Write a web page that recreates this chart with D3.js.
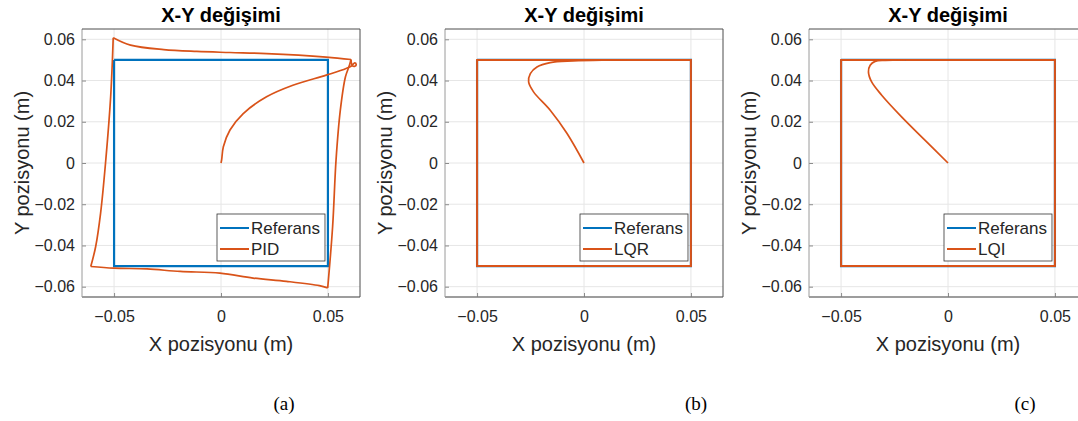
<!DOCTYPE html>
<html>
<head>
<meta charset="utf-8">
<script src="https://cdn.jsdelivr.net/npm/d3@7"></script>
<style>
  body { margin: 0; background: #fff; }
  svg { display: block; }
</style>
</head>
<body>
<svg id="chart" width="1078" height="421"></svg>
<script>
// tick values
var xTicks = [-0.05, 0, 0.05];
var yTicks = [-0.06, -0.04, -0.02, 0, 0.02, 0.04, 0.06];

// reference square (same for all three)
var refSquare = [[-0.05, 0.05], [0.05, 0.05], [0.05, -0.05], [-0.05, -0.05], [-0.05, 0.05]];

// PID response, one piece per edge
var pidApproach = [[0, 0], [0.0003, 0.0015], [0.0011, 0.0079], [0.0042, 0.016], [0.0104, 0.024],
  [0.0213, 0.0321], [0.0336, 0.0377], [0.0492, 0.0426], [0.0585, 0.0458], [0.0612, 0.0472],
  [0.0625, 0.0486], [0.0632, 0.0479], [0.0626, 0.0469], [0.0614, 0.0473], [0.0608, 0.0502]];
var pidTop = [[0.0608, 0.0502], [0.0492, 0.0514], [0.0213, 0.0531], [0.0042, 0.0536],
  [-0.0113, 0.0541], [-0.0268, 0.055], [-0.0423, 0.0572], [-0.0504, 0.0608]];
var pidLeft = [[-0.0504, 0.0608], [-0.0516, 0.0321], [-0.054, 0], [-0.0563, -0.0243],
  [-0.0586, -0.0405], [-0.0609, -0.0502]];
var pidBottom = [[-0.0609, -0.0502], [-0.0501, -0.051], [-0.0346, -0.0514], [-0.0191, -0.0526],
  [-0.0005, -0.0534], [0.015, -0.0558], [0.0306, -0.0574], [0.046, -0.0595], [0.0499, -0.0606]];
var pidRight = [[0.0499, -0.0606], [0.0522, -0.0308], [0.0538, 0.0015], [0.0558, 0.0256],
  [0.0582, 0.0418], [0.0601, 0.0475], [0.0608, 0.0502]];

// LQR response
var lqrTransient = [[0, 0], [-0.008, 0.0144], [-0.0158, 0.0256], [-0.0236, 0.0345], [-0.0259, 0.0393],
  [-0.0251, 0.0434], [-0.022, 0.0466], [-0.0158, 0.0487], [-0.005, 0.0495], [0.01, 0.0499], [0.02, 0.05]];
var lqrTrack = [[0.02, 0.05], [0.05, 0.05], [0.05, -0.05], [-0.05, -0.05], [-0.05, 0.05], [0.02, 0.05]];

// LQI response
var lqiTransient = [[0, 0], [-0.0108, 0.0111], [-0.0217, 0.0224], [-0.031, 0.0329], [-0.0357, 0.0393],
  [-0.0372, 0.0442], [-0.0364, 0.0474], [-0.0341, 0.0493], [-0.0294, 0.0498], [-0.02, 0.05]];
var lqiTrack = [[-0.02, 0.05], [0.05, 0.05], [0.05, -0.05], [-0.05, -0.05], [-0.05, 0.05], [-0.02, 0.05]];

var panels = [
  { left: 82, name: 'PID', curves: [pidApproach, pidTop, pidLeft, pidBottom, pidRight], straight: [], tag: '(a)', tagX: 284 },
  { left: 445, name: 'LQR', curves: [lqrTransient], straight: [lqrTrack], tag: '(b)', tagX: 696 },
  { left: 809, name: 'LQI', curves: [lqiTransient], straight: [lqiTrack], tag: '(c)', tagX: 1025 }
];

var blue = '#0072BD', orange = '#D95319';
var font = 'Arial, "Liberation Sans", Helvetica, sans-serif';
var plotTop = 29, w = 278, h = 268;

var svg = d3.select('#chart');
var fmt = d3.format('');

panels.forEach(function (p, i) {
  var x = d3.scaleLinear().domain([-0.065, 0.065]).range([0, w]);
  var y = d3.scaleLinear().domain([-0.065, 0.065]).range([h, 0]);

  var g = svg.append('g').attr('transform', 'translate(' + p.left + ',' + plotTop + ')');

  g.append('clipPath').attr('id', 'clip' + i)
    .append('rect').attr('width', w).attr('height', h);

  // grid
  g.selectAll('.gx').data(xTicks).enter().append('line')
    .attr('x1', function (d) { return x(d); }).attr('x2', function (d) { return x(d); })
    .attr('y1', 0).attr('y2', h)
    .attr('stroke', '#e6e6e6').attr('stroke-width', 1);
  g.selectAll('.gy').data(yTicks).enter().append('line')
    .attr('y1', function (d) { return y(d); }).attr('y2', function (d) { return y(d); })
    .attr('x1', 0).attr('x2', w)
    .attr('stroke', '#e6e6e6').attr('stroke-width', 1);

  // axes
  var xAxis = g.append('g').attr('transform', 'translate(0,' + h + ')')
    .call(d3.axisBottom(x).tickValues(xTicks).tickSize(-4).tickPadding(14).tickFormat(function (d) { return d === 0 ? '0' : fmt(d); }));
  var yAxis = g.append('g')
    .call(d3.axisLeft(y).tickValues(yTicks).tickSize(-4).tickPadding(7).tickFormat(function (d) { return d === 0 ? '0' : fmt(d); }));
  [xAxis, yAxis].forEach(function (a) {
    a.select('.domain').remove();
    a.selectAll('line').attr('stroke', '#8c8c8c');
    a.selectAll('text').style('font-family', font).style('font-size', '16px').attr('fill', '#262626');
  });

  // box
  g.append('line').attr('x1', 0).attr('x2', w).attr('y1', h).attr('y2', h).attr('stroke', '#7d7d7d').attr('stroke-width', 1.5);
  g.append('line').attr('x1', 0).attr('x2', 0).attr('y1', 0).attr('y2', h).attr('stroke', '#9a9a9a').attr('stroke-width', 1);
  g.append('line').attr('x1', 0).attr('x2', w).attr('y1', 0).attr('y2', 0).attr('stroke', '#4d4d4d').attr('stroke-width', 1);
  g.append('line').attr('x1', w).attr('x2', w).attr('y1', 0).attr('y2', h).attr('stroke', '#4d4d4d').attr('stroke-width', 1);

  var plot = g.append('g').attr('clip-path', 'url(#clip' + i + ')');
  var linear = d3.line().x(function (d) { return x(d[0]); }).y(function (d) { return y(d[1]); });
  var smooth = d3.line().x(function (d) { return x(d[0]); }).y(function (d) { return y(d[1]); })
    .curve(d3.curveCatmullRom.alpha(0.5));

  plot.append('path').attr('d', linear(refSquare)).attr('fill', 'none')
    .attr('stroke', blue).attr('stroke-width', 2.2);

  p.straight.forEach(function (s) {
    plot.append('path').attr('d', linear(s)).attr('fill', 'none')
      .attr('stroke', orange).attr('stroke-width', 2).attr('stroke-linejoin', 'miter');
  });
  p.curves.forEach(function (c) {
    plot.append('path').attr('d', smooth(c)).attr('fill', 'none')
      .attr('stroke', orange).attr('stroke-width', 1.7).attr('stroke-linejoin', 'round');
  });

  // title
  g.append('text').attr('x', w / 2).attr('y', -7).attr('text-anchor', 'middle')
    .style('font-family', font).style('font-size', '20px').style('font-weight', 'bold')
    .attr('fill', '#000').text('X-Y değişimi');

  // axis labels
  g.append('text').attr('x', w / 2).attr('y', h + 54).attr('text-anchor', 'middle')
    .style('font-family', font).style('font-size', '20px').attr('fill', '#262626')
    .text('X pozisyonu (m)');
  g.append('text').attr('transform', 'translate(' + (-53) + ',' + (h / 2) + ') rotate(-90)')
    .attr('text-anchor', 'middle')
    .style('font-family', font).style('font-size', '20px').attr('fill', '#262626')
    .text('Y pozisyonu (m)');

  // legend
  var lg = g.append('g').attr('transform', 'translate(135,185)');
  var labels = ['Referans', p.name];
  var box = lg.append('rect').attr('x', 0).attr('y', 0).attr('height', 47)
    .attr('fill', '#fff').attr('stroke', '#333').attr('stroke-width', 0.8);
  var maxW = 0;
  labels.forEach(function (t, k) {
    var yy = 14 + k * 21;
    lg.append('line').attr('x1', 3).attr('x2', 32).attr('y1', yy).attr('y2', yy)
      .attr('stroke', k === 0 ? blue : orange).attr('stroke-width', 2);
    var tx = lg.append('text').attr('x', 34).attr('y', yy + 6)
      .style('font-family', font).style('font-size', '17px').attr('fill', '#262626').text(t);
    maxW = Math.max(maxW, tx.node().getComputedTextLength());
  });
  box.attr('width', 34 + maxW + 5);

  // sub-figure tag
  svg.append('text').attr('x', p.tagX).attr('y', 410).attr('text-anchor', 'middle')
    .style('font-family', '"Liberation Serif", "DejaVu Serif", serif').style('font-size', '19px')
    .attr('fill', '#000').text(p.tag);
});
</script>
</body>
</html>
